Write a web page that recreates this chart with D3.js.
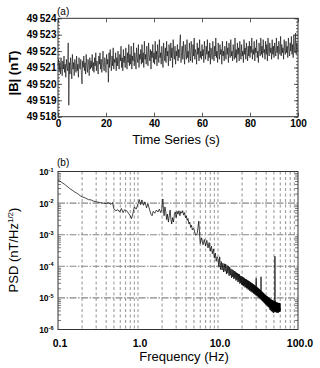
<!DOCTYPE html>
<html><head><meta charset="utf-8">
<script src="https://cdn.jsdelivr.net/npm/d3@7"></script>
<style>
body{margin:0;background:#fff}
svg{display:block}
text{font-family:"Liberation Sans",Arial,Helvetica,sans-serif;fill:#000}
</style>
</head><body>
<svg id="c" width="320" height="368"></svg>
<script>
// ---------- Data ----------
const timeStep = 0.25; // seconds between samples
const fieldValues = [
49521.1,49521.5,49520.8,49521.3,49520.6,49521.6,49521.0,49520.5,49521.4,49520.9,49521.7,49520.7,49521.2,49520.4,49521.5,49521.0,49520.8,49522.5,49518.7,49521.3,
49520.6,49521.6,49521.0,49520.3,49521.8,49520.9,49521.3,49520.5,49521.5,49521.1,49520.7,49521.7,49520.8,49521.2,49520.4,49521.6,49521.0,49520.9,49521.5,49520.6,
49520.0,49521.4,49521.0,49521.7,49520.8,49521.3,49520.6,49521.8,49521.1,49520.7,49521.5,49521.2,49520.5,49521.6,49520.9,49521.4,49521.0,49521.8,49520.8,49521.3,
49520.7,49521.6,49521.1,49521.9,49520.8,49521.4,49521.0,49520.6,49521.7,49521.2,49521.9,49520.9,49521.5,49520.7,49521.3,49522.0,49521.0,49520.8,49521.6,49521.2,
49520.7,49521.8,49521.2,49521.5,49520.1,49521.9,49521.0,49522.1,49521.3,49520.8,49521.7,49521.1,49522.2,49520.9,49521.5,49521.3,49521.9,49520.8,49521.6,49521.1,
49522.0,49521.2,49520.9,49521.8,49521.4,49522.3,49521.0,49521.6,49520.8,49522.1,49521.3,49521.7,49521.0,49522.2,49521.5,49520.9,49521.9,49521.3,49522.4,49521.1,
49521.8,49521.2,49522.3,49520.9,49521.7,49521.4,49522.5,49521.1,49521.9,49521.5,49520.9,49522.2,49521.6,49521.3,49522.4,49521.0,49521.8,49521.5,49522.1,49521.2,
49522.4,49521.3,49521.9,49521.0,49522.6,49521.5,49521.8,49521.2,49522.3,49521.6,49521.1,49522.5,49521.7,49521.4,49522.1,49520.9,49522.0,49521.6,49522.4,49521.3,
49521.9,49521.2,49522.6,49521.5,49522.0,49521.1,49522.4,49521.8,49521.3,49522.7,49521.6,49521.9,49521.2,49522.3,49521.7,49521.0,49522.5,49521.8,49521.4,49522.2,
49521.3,49522.6,49521.7,49522.0,49521.1,49522.4,49521.9,49521.4,49522.5,49521.6,49522.2,49521.0,49522.7,49521.8,49521.5,49522.3,49521.2,49522.0,49521.7,49522.4,
49521.4,49522.1,49521.6,49522.5,49523.0,49521.3,49521.9,49522.3,49521.5,49522.6,49521.8,49521.2,49522.4,49521.9,49521.5,49522.7,49521.6,49522.0,49521.3,49522.5,
49521.8,49521.4,49522.6,49522.0,49521.3,49522.4,49521.7,49522.8,49521.5,49522.1,49521.9,49521.2,49522.5,49521.8,49522.2,49521.4,49522.7,49521.6,49522.0,49521.5,
49522.4,49521.7,49522.1,49521.3,49522.6,49521.9,49521.5,49522.3,49521.8,49522.7,49521.4,49522.0,49521.6,49522.5,49521.2,49522.2,49521.9,49521.5,49522.6,49521.8,
49521.4,49522.3,49521.7,49522.8,49521.6,49522.0,49521.3,49522.5,49521.9,49521.5,49522.4,49521.8,49522.1,49521.2,49522.6,49521.7,49522.0,49521.4,49522.3,49521.9,
49521.5,49522.6,49521.8,49522.2,49521.3,49522.5,49521.9,49521.6,49522.7,49521.7,49522.0,49521.4,49522.4,49521.8,49521.5,49522.8,49521.6,49522.1,49521.3,49522.5,
49521.8,49522.2,49521.4,49522.6,49521.9,49521.5,49522.4,49521.7,49522.0,49521.3,49522.7,49521.8,49522.2,49521.5,49522.5,49521.9,49521.4,49522.3,49521.7,49522.6,
49521.6,49522.3,49521.9,49522.8,49521.5,49522.1,49521.8,49522.6,49521.4,49522.2,49521.9,49522.7,49521.6,49522.0,49521.3,49522.5,49522.0,49521.7,49522.8,49521.8,
49522.3,49521.6,49522.7,49521.9,49522.1,49521.5,49522.6,49521.8,49522.4,49521.4,49522.8,49522.0,49521.7,49522.5,49521.9,49522.2,49521.5,49522.7,49521.8,49522.3,
49521.6,49522.5,49522.0,49521.7,49522.8,49521.9,49522.3,49521.5,49522.6,49522.1,49521.8,49522.9,49521.7,49522.4,49521.9,49522.2,49521.5,49522.7,49522.0,49521.8,
49522.6,49521.9,49522.3,49521.6,49522.8,49522.1,49521.7,49522.5,49522.0,49522.9,49521.8,49522.4,49521.6,49523.0,49522.2,49521.9,49523.1,49521.8,49522.5,49522.1,
49522.0
];
const timeTicks = [0, 20, 40, 60, 80, 100];
const fieldTicks = [49518, 49519, 49520, 49521, 49522, 49523, 49524];

// PSD below 5 Hz: explicit frequencies and log10(PSD)
const psdFreqLow = [
0.10,0.11,0.12,0.13,0.14,0.15,0.16,0.17,0.18,0.19,0.20,0.22,0.24,0.26,0.28,0.30,0.33,0.36,0.40,0.43,
0.46,0.48,0.50,0.53,0.56,0.59,0.62,0.65,0.68,0.72,0.76,0.80,0.83,0.86,0.90,0.95,1.00,1.04,1.08,1.12,
1.17,1.22,1.28,1.33,1.40,1.45,1.50,1.55,1.62,1.70,1.78,1.85,1.92,1.98,2.02,2.05,2.08,2.12,2.17,2.22,
2.28,2.33,2.40,2.46,2.52,2.58,2.64,2.70,2.78,2.85,2.92,3.00,3.08,3.16,3.25,3.34,3.43,3.52,3.62,3.72,
3.82,3.92,4.02,4.12,4.22,4.33,4.44,4.55,4.66,4.78,4.90
];
const psdLogLow = [
-1.26,-1.34,-1.40,-1.47,-1.54,-1.59,-1.64,-1.68,-1.72,-1.77,-1.80,-1.84,-1.89,-1.90,-1.94,-1.96,-1.98,-2.00,-2.01,-1.99,
-2.04,-1.98,-2.19,-2.24,-2.21,-2.28,-2.17,-2.30,-2.21,-2.24,-2.32,-2.40,-2.49,-2.35,-2.12,-2.19,-2.02,-1.89,-2.05,-1.90,
-2.07,-1.96,-2.15,-2.02,-2.22,-2.35,-2.40,-2.26,-2.32,-2.22,-2.28,-2.19,-2.30,-2.22,-1.92,-1.87,-2.22,-2.40,-2.12,-2.26,
-2.52,-2.35,-2.60,-2.40,-2.22,-2.52,-2.66,-2.46,-2.60,-2.35,-2.28,-2.46,-2.26,-2.35,-2.24,-2.40,-2.26,-2.32,-2.24,-2.38,
-2.30,-2.46,-2.40,-2.55,-2.49,-2.66,-2.60,-2.77,-2.70,-2.85,-2.80
];
// PSD from 5 Hz to 60 Hz on a regular 0.25 Hz FFT grid: log10(PSD)
const bandStartHz = 5, bandStepHz = 0.25;
const psdLogBand = [
-2.82,-3.02,-2.96,-2.57,-3.28,-3.10,-3.32,-3.15,-3.36,-3.18,-3.42,-3.25,-3.52,-3.36,-3.60,-3.45,-3.74,-3.58,-3.84,-3.70,
-3.76,-4.02,-3.70,-4.10,-3.85,-4.12,-3.90,-4.18,-3.92,-4.16,-3.93,-4.24,-3.97,-4.22,-4.00,-4.30,-4.02,-4.28,-4.08,-4.36,
-4.10,-4.34,-4.12,-4.40,-4.15,-4.38,-4.17,-4.45,-4.20,-4.43,-4.22,-4.50,-4.24,-4.48,-4.25,-4.55,-4.30,-4.53,-4.31,-4.58,
-4.33,-4.60,-4.34,-4.63,-4.36,-4.62,-4.38,-4.67,-4.40,-4.66,-4.41,-4.70,-4.43,-4.69,-4.44,-4.74,-4.46,-4.73,-4.47,-4.77,
-4.49,-4.76,-4.50,-4.80,-4.52,-4.79,-4.53,-4.83,-4.55,-4.82,-4.56,-4.86,-4.58,-4.85,-4.59,-4.89,-4.61,-4.88,-4.62,-4.92,
-4.38,-4.91,-4.65,-4.95,-4.67,-4.94,-4.68,-4.98,-4.70,-4.97,-4.71,-5.01,-4.73,-5.00,-4.74,-5.04,-4.76,-5.03,-4.33,-5.07,
-4.79,-5.06,-4.80,-5.10,-4.82,-5.09,-4.83,-5.13,-4.85,-5.12,-4.86,-5.16,-4.88,-5.15,-4.89,-5.19,-4.91,-5.18,-4.92,-5.22,
-4.93,-5.20,-4.94,-5.24,-4.95,-5.22,-4.96,-5.27,-4.97,-5.25,-4.98,-5.29,-4.99,-5.27,-5.00,-5.33,-5.01,-5.30,-5.02,-5.38,
-5.03,-5.32,-5.04,-5.40,-5.05,-5.34,-5.06,-5.42,-5.07,-5.36,-5.07,-5.44,-5.08,-5.38,-5.09,-5.46,-5.09,-5.39,-5.10,-5.48,
-5.11,-5.40,-5.11,-5.42,-5.12,-5.44,-3.68,-5.30,-5.10,-5.43,-5.13,-5.45,-5.14,-5.40,-5.14,-5.46,-5.15,-5.42,-5.15,-5.47,
-5.16,-5.41,-5.15,-5.46,-5.16,-5.43,-5.16,-5.47,-5.17,-5.42,-5.16,-5.45,-5.17,-5.41,-5.16,-5.44,-5.18,-5.40,-5.17,-5.43,
-5.30
];
const freqTicks = [0.1, 1, 10, 100];
const freqTickLabels = ["0.1", "1.0", "10.0", "100.0"];
const psdExponents = [-1, -2, -3, -4, -5, -6];

// ---------- Drawing ----------
const svg = d3.select("#c");
const L = 58, R = 298;
const FONT = '"Liberation Sans",Arial,sans-serif';

// ===== Panel (a) =====
const aTop = 18.3, aBot = 116.7;
const x1 = d3.scaleLinear().domain([0, 100]).range([L, R]);
const y1 = d3.scaleLinear().domain([49518, 49524]).range([aBot, aTop]);

const series = fieldValues.map((v, i) => ({t: i * timeStep, v}));
svg.append("path")
  .datum(series)
  .attr("fill", "none")
  .attr("stroke", "#000")
  .attr("stroke-width", 0.7)
  .attr("stroke-opacity", 0.85)
  .attr("d", d3.line().x(d => x1(d.t)).y(d => y1(d.v)));

const fmtField = d => { const s = String(d); return s.slice(0, 2) + "\u2009" + s.slice(2); };
const minorField = d3.range(49518, 49524.001, 0.2);
const gA = svg.append("g");
gA.append("g").attr("transform", `translate(${L},0)`)
  .call(d3.axisLeft(y1).tickValues(minorField).tickSize(-2).tickFormat(""));
gA.append("g").attr("transform", `translate(${R},0)`)
  .call(d3.axisRight(y1).tickValues(minorField).tickSize(-2).tickFormat(""));
gA.append("g").attr("transform", `translate(${L},0)`)
  .call(d3.axisLeft(y1).tickValues(fieldTicks).tickSize(-4).tickPadding(1.5).tickFormat(fmtField))
  .call(g => g.selectAll("text").attr("font-size", 10).attr("font-weight", "bold").style("font-family", FONT));
gA.append("g").attr("transform", `translate(${R},0)`)
  .call(d3.axisRight(y1).tickValues(fieldTicks).tickSize(-4).tickFormat(""));
gA.append("g").attr("transform", `translate(0,${aBot})`)
  .call(d3.axisBottom(x1).tickValues(timeTicks).tickSize(-4).tickPadding(3).tickFormat(d3.format("d")))
  .call(g => g.selectAll("text").attr("font-size", 10).attr("font-weight", "bold").style("font-family", FONT));
gA.append("g").attr("transform", `translate(0,${aTop})`)
  .call(d3.axisTop(x1).tickValues(timeTicks).tickSize(-4).tickFormat(""));
gA.selectAll(".domain").remove();
gA.selectAll("line").attr("stroke", "#333").attr("stroke-width", 0.8);
svg.append("rect").attr("x", L).attr("y", aTop).attr("width", R - L).attr("height", aBot - aTop)
  .attr("fill", "none").attr("stroke", "#333").attr("stroke-width", 1);

svg.append("text").attr("x", L - 1).attr("y", 14.5).attr("font-size", 10).text("(a)");
svg.append("text").attr("x", 176).attr("y", 144).attr("text-anchor", "middle").attr("font-size", 13)
  .text("Time Series (s)");
svg.append("text").attr("transform", "translate(17.5,73) rotate(-90)").attr("text-anchor", "middle")
  .attr("font-size", 13).attr("font-weight", "bold").text("|B| (nT)");

// ===== Panel (b) =====
const bTop = 171.5, bBot = 329.5;
const x2 = d3.scaleLog().domain([0.1, 100]).range([L, R]);
const y2 = d3.scaleLog().domain([1e-6, 1e-1]).range([bBot, bTop]);

const vGrid = [];
[0.1, 1, 10].forEach(dec => { for (let k = 1; k <= 9; k++) vGrid.push(dec * k); });
svg.append("g").selectAll("line").data(vGrid.filter(f => f > 0.1001)).join("line")
  .attr("x1", d => x2(d)).attr("x2", d => x2(d))
  .attr("y1", bTop).attr("y2", bBot)
  .attr("stroke", "#666").attr("stroke-width", 0.7).attr("stroke-dasharray", "3,2.5");
svg.append("g").selectAll("line").data(psdExponents.slice(1, 5)).join("line")
  .attr("x1", L).attr("x2", R)
  .attr("y1", d => y2(Math.pow(10, d))).attr("y2", d => y2(Math.pow(10, d)))
  .attr("stroke", "#888").attr("stroke-width", 1.1).attr("stroke-dasharray", "7,1.5,1.5,1.5");

const yMinor = [];
[1e-6, 1e-5, 1e-4, 1e-3, 1e-2].forEach(dec => { for (let k = 2; k <= 9; k++) yMinor.push(dec * k); });
const gB = svg.append("g");
gB.append("g").attr("transform", `translate(${L},0)`)
  .call(d3.axisLeft(y2).tickValues(yMinor).tickSize(-3).tickFormat(""));
gB.append("g").attr("transform", `translate(${R},0)`)
  .call(d3.axisRight(y2).tickValues(yMinor).tickSize(-3).tickFormat(""));
gB.selectAll(".domain").remove();
gB.selectAll("line").attr("stroke", "#444").attr("stroke-width", 0.7);

// PSD curve
const spec = psdFreqLow.map((f, i) => ({f, p: Math.pow(10, psdLogLow[i])}))
  .concat(psdLogBand.map((v, i) => ({f: bandStartHz + i * bandStepHz, p: Math.pow(10, v)})));
svg.append("path")
  .datum(spec)
  .attr("fill", "none")
  .attr("stroke", "#000")
  .attr("stroke-width", 0.8)
  .attr("stroke-opacity", 0.9)
  .attr("d", d3.line().x(d => x2(d.f)).y(d => y2(d.p)));

svg.append("rect").attr("x", L).attr("y", bTop).attr("width", R - L).attr("height", bBot - bTop)
  .attr("fill", "none").attr("stroke", "#333").attr("stroke-width", 1);

svg.append("g").selectAll("text").data(freqTicks).join("text")
  .attr("x", d => x2(d) + 2).attr("y", bBot + 17)
  .attr("text-anchor", "middle").attr("font-size", 10.5).attr("font-weight", "bold")
  .text((d, i) => freqTickLabels[i]);
const yl = svg.append("g").selectAll("text").data(psdExponents).join("text")
  .attr("x", L - 4.5).attr("y", d => y2(Math.pow(10, d)) + 3.5)
  .attr("text-anchor", "end").attr("font-weight", "bold").attr("font-size", 8.5);
yl.append("tspan").text("10");
yl.append("tspan").attr("font-size", 5.5).attr("dy", -3.5).text(d => "-" + Math.abs(d));

svg.append("text").attr("x", L - 1).attr("y", 166).attr("font-size", 10).text("(b)");
svg.append("text").attr("x", 184).attr("y", 361).attr("text-anchor", "middle").attr("font-size", 13)
  .text("Frequency (Hz)");
const pt = svg.append("text").attr("transform", "translate(18,250) rotate(-90)")
  .attr("text-anchor", "middle").attr("font-size", 13);
pt.append("tspan").text("PSD (nT/Hz");
pt.append("tspan").attr("font-size", 8).attr("dy", -5).text("1/2");
pt.append("tspan").attr("dy", 5).text(")");
</script>
</body></html>
